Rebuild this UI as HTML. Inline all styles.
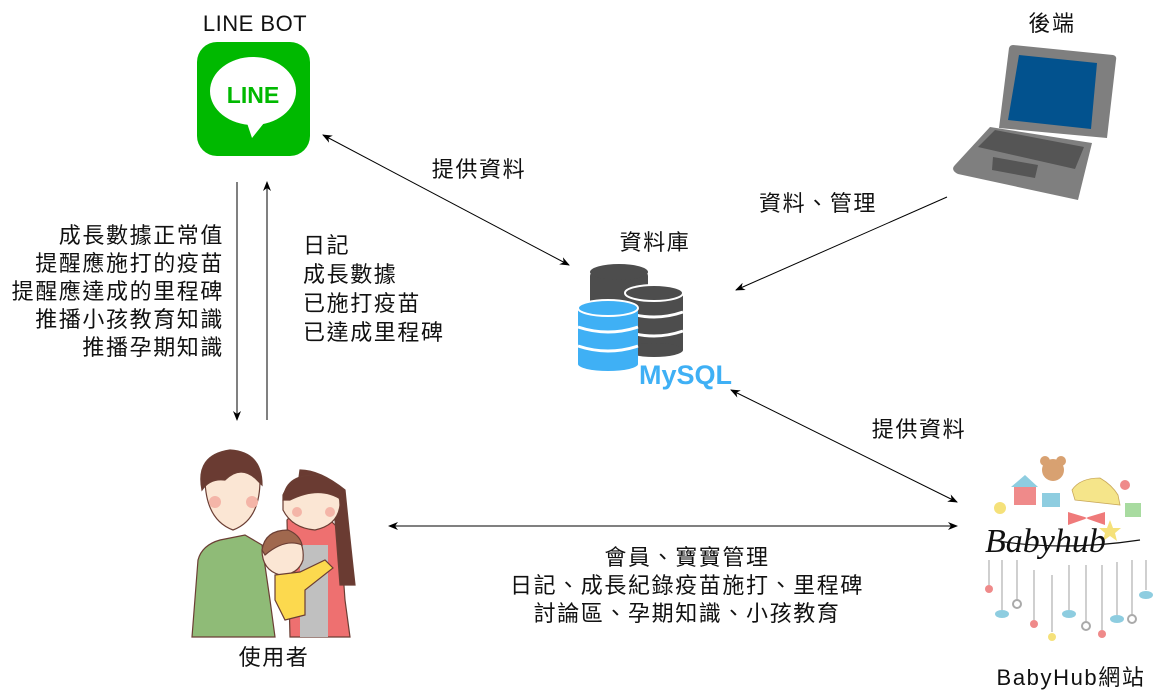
<!DOCTYPE html>
<html><head><meta charset="utf-8"><style>
html,body{margin:0;padding:0;background:#fff;}
svg{display:block;}
text{font-family:"Liberation Sans","Noto Sans CJK TC",sans-serif;font-size:22px;letter-spacing:1.6px;fill:#111;}
</style></head><body>
<svg width="1170" height="695" viewBox="0 0 1170 695" xmlns="http://www.w3.org/2000/svg">
<defs>
<marker id="a" markerWidth="10" markerHeight="8" refX="9" refY="4" orient="auto" markerUnits="userSpaceOnUse"><path d="M0,0 L10,4 L0,8 L3,4 Z" fill="#000"/></marker>
<marker id="s" markerWidth="10" markerHeight="8" refX="1" refY="4" orient="auto" markerUnits="userSpaceOnUse"><path d="M10,0 L0,4 L10,8 L7,4 Z" fill="#000"/></marker>
</defs>

<text x="255" y="31" text-anchor="middle" style="letter-spacing:0.5px">LINE BOT</text>
<rect x="197" y="42" width="113" height="114" rx="20" fill="#00B900"/>
<ellipse cx="253" cy="91" rx="43" ry="34" fill="#fff"/>
<path d="M246,120 L252,138 L268,118 Z" fill="#fff"/>
<text x="253" y="103" text-anchor="middle" style="font-size:23px;letter-spacing:0;font-weight:bold;fill:#00B900">LINE</text>

<text x="1052" y="31" text-anchor="middle">後端</text>
<path d="M1013,45 L1113,55 Q1117,56 1116,60 L1107,138 L999,128 L1009,48 Q1010,45 1013,45 Z" fill="#7f7f7f"/>
<path d="M1019,55 L1097,63 L1091,129 L1008,120 Z" fill="#02528e"/>
<path d="M990,127 L1092,143 L1078,200 L958,174 Q950,170 955,165 Z" fill="#7f7f7f"/>
<path d="M995,130 L1084,147 L1075,169 L978,147 Z" fill="#555"/>
<path d="M993,157 L1038,165 L1035,178 L992,170 Z" fill="#555"/>

<text x="655" y="250" text-anchor="middle">資料庫</text>
<g fill="#4d4d4d">
<rect x="590" y="272" width="58" height="60" rx="4"/>
<ellipse cx="619" cy="272" rx="29" ry="8"/>
<rect x="625" y="293" width="58" height="57"/>
<ellipse cx="654" cy="293" rx="29" ry="8"/>
<ellipse cx="654" cy="350" rx="29" ry="7"/>
</g>
<path d="M625,312 Q654,322 683,312 M625,331 Q654,341 683,331" stroke="#fff" stroke-width="3" fill="none"/>
<ellipse cx="654" cy="293" rx="29" ry="8" fill="none" stroke="#fff" stroke-width="2"/>
<g>
<rect x="578" y="308" width="60" height="56" fill="#3fb0f5"/>
<ellipse cx="608" cy="308" rx="30" ry="8" fill="#3fb0f5" stroke="#fff" stroke-width="2"/>
<ellipse cx="608" cy="364" rx="30" ry="7" fill="#3fb0f5"/>
<path d="M578,327 Q608,337 638,327 M578,346 Q608,356 638,346" stroke="#fff" stroke-width="3" fill="none"/>
</g>
<text x="639" y="384" style="font-size:27px;letter-spacing:0;font-weight:bold;fill:#3fb0f5">MySQL</text>

<line x1="323" y1="135" x2="569" y2="265" stroke="#000" stroke-width="1" marker-start="url(#s)" marker-end="url(#a)"/>
<line x1="947" y1="197" x2="736" y2="290" stroke="#000" stroke-width="1" marker-end="url(#a)"/>
<line x1="731" y1="390" x2="957" y2="502" stroke="#000" stroke-width="1" marker-start="url(#s)" marker-end="url(#a)"/>
<line x1="389" y1="526" x2="957" y2="526" stroke="#000" stroke-width="1" marker-start="url(#s)" marker-end="url(#a)"/>
<line x1="237" y1="182" x2="237" y2="420" stroke="#000" stroke-width="1" marker-end="url(#a)"/>
<line x1="267" y1="420" x2="267" y2="182" stroke="#000" stroke-width="1" marker-end="url(#a)"/>

<text x="479" y="177" text-anchor="middle">提供資料</text>
<text x="818" y="211" text-anchor="middle">資料、管理</text>
<text x="919" y="437" text-anchor="middle">提供資料</text>
<g text-anchor="end">
<text x="224" y="243">成長數據正常值</text>
<text x="224" y="271">提醒應施打的疫苗</text>
<text x="224" y="299">提醒應達成的里程碑</text>
<text x="224" y="327">推播小孩教育知識</text>
<text x="224" y="355">推播孕期知識</text>
</g>
<text x="303" y="253">日記</text>
<text x="303" y="282">成長數據</text>
<text x="303" y="311">已施打疫苗</text>
<text x="303" y="340">已達成里程碑</text>
<g text-anchor="middle">
<text x="687" y="565">會員、寶寶管理</text>
<text x="687" y="593">日記、成長紀錄疫苗施打、里程碑</text>
<text x="687" y="621">討論區、孕期知識、小孩教育</text>
</g>
<text x="274" y="665" text-anchor="middle">使用者</text>
<text x="1071" y="685" text-anchor="middle">BabyHub網站</text>

<g stroke="#6b3e34" stroke-width="1.2">
<path d="M192,637 L198,560 Q202,545 220,540 L245,535 L262,545 L270,600 L275,637 Z" fill="#8fbb77"/>
<path d="M287,520 Q300,505 320,510 L340,530 L345,600 L350,637 L290,637 Z" fill="#ee7070"/>
<rect x="300" y="545" width="28" height="92" fill="#c0c0c0" stroke="none"/>
<path d="M300,470 Q320,470 345,490 Q350,540 355,585 L340,585 L335,520 Q310,515 293,522 Z" fill="#6a3b32"/>
<path d="M283,495 Q290,478 320,478 Q340,485 340,505 Q338,525 315,530 Q292,528 283,510 Z" fill="#fbe6d4"/>
<path d="M283,500 Q285,475 315,475 Q342,480 342,500 Q320,485 290,500 Z" fill="#6a3b32"/>
<path d="M205,480 Q210,455 235,455 Q258,460 260,480 Q260,520 233,530 Q206,520 205,480 Z" fill="#fbe6d4"/>
<path d="M202,490 Q195,455 230,450 Q262,452 262,485 L255,478 Q240,465 225,480 Q210,478 202,490 Z" fill="#6a3b32"/>
<path d="M262,550 Q270,530 290,532 Q305,540 303,560 Q298,575 280,575 Q262,570 262,550 Z" fill="#fbe6d4"/>
<path d="M262,550 Q265,530 288,530 Q300,535 302,545 Q285,538 265,555 Z" fill="#a0684e"/>
<path d="M275,575 L300,572 L325,560 L333,568 L305,590 L305,615 L285,620 L275,600 Z" fill="#fcd94e"/>
</g>
<g fill="#f4b5a8"><circle cx="215" cy="502" r="6"/><circle cx="252" cy="502" r="6"/><circle cx="297" cy="512" r="5"/><circle cx="330" cy="512" r="5"/></g>

<g stroke="#888" stroke-width="0.8">
<line x1="989" y1="560" x2="989" y2="585"/><line x1="1002" y1="560" x2="1002" y2="610"/><line x1="1017" y1="560" x2="1017" y2="600"/>
<line x1="1034" y1="570" x2="1034" y2="620"/><line x1="1052" y1="575" x2="1052" y2="632"/><line x1="1069" y1="565" x2="1069" y2="610"/>
<line x1="1086" y1="565" x2="1086" y2="622"/><line x1="1102" y1="565" x2="1102" y2="630"/><line x1="1117" y1="562" x2="1117" y2="615"/>
<line x1="1132" y1="560" x2="1132" y2="615"/><line x1="1146" y1="560" x2="1146" y2="590"/>
</g>
<g>
<circle cx="1053" cy="470" r="11" fill="#d8a171"/><circle cx="1045" cy="461" r="5" fill="#d8a171"/><circle cx="1061" cy="461" r="5" fill="#d8a171"/>
<path d="M1011,487 L1025,475 L1038,487 Z" fill="#8ecde0"/><rect x="1014" y="487" width="22" height="18" fill="#ef8a8a"/>
<path d="M1072,490 Q1080,478 1100,478 Q1112,485 1118,495 L1120,505 L1075,500 Z" fill="#f5e58a" stroke="#c9a85a" stroke-width="0.8"/>
<rect x="1042" y="493" width="18" height="14" fill="#8ecde0"/>
<path d="M1068,512 L1088,518 L1068,525 Z M1105,512 L1085,518 L1105,525 Z" fill="#ef7a7a"/>
<circle cx="1000" cy="508" r="6" fill="#f5e17a"/><circle cx="1125" cy="485" r="5" fill="#ef8a8a"/>
<rect x="1125" y="503" width="16" height="14" fill="#a8dba0"/>
<path d="M1110,520 L1113,528 L1121,528 L1115,533 L1117,541 L1110,536 L1103,541 L1105,533 L1099,528 L1107,528 Z" fill="#f5e17a"/>
</g>
<text x="985" y="552" style="font-family:'Liberation Serif',serif;font-style:italic;font-size:34px;letter-spacing:0;fill:#111">Babyhub</text>
<path d="M992,540 Q1060,552 1140,540" stroke="#111" fill="none" stroke-width="1.2"/>
<g fill="#ef8a8a"><circle cx="989" cy="589" r="4"/><circle cx="1034" cy="624" r="4"/><circle cx="1102" cy="634" r="4"/></g>
<g fill="#8ecde0"><ellipse cx="1002" cy="614" rx="7" ry="4"/><ellipse cx="1069" cy="614" rx="7" ry="4"/><ellipse cx="1117" cy="619" rx="7" ry="4"/><ellipse cx="1146" cy="595" rx="7" ry="4"/></g>
<g fill="none" stroke="#aaa" stroke-width="2"><circle cx="1017" cy="604" r="4"/><circle cx="1086" cy="626" r="4"/><circle cx="1132" cy="619" r="4"/></g>
<circle cx="1052" cy="637" r="4" fill="#f5e17a"/>
</svg>
</body></html>
